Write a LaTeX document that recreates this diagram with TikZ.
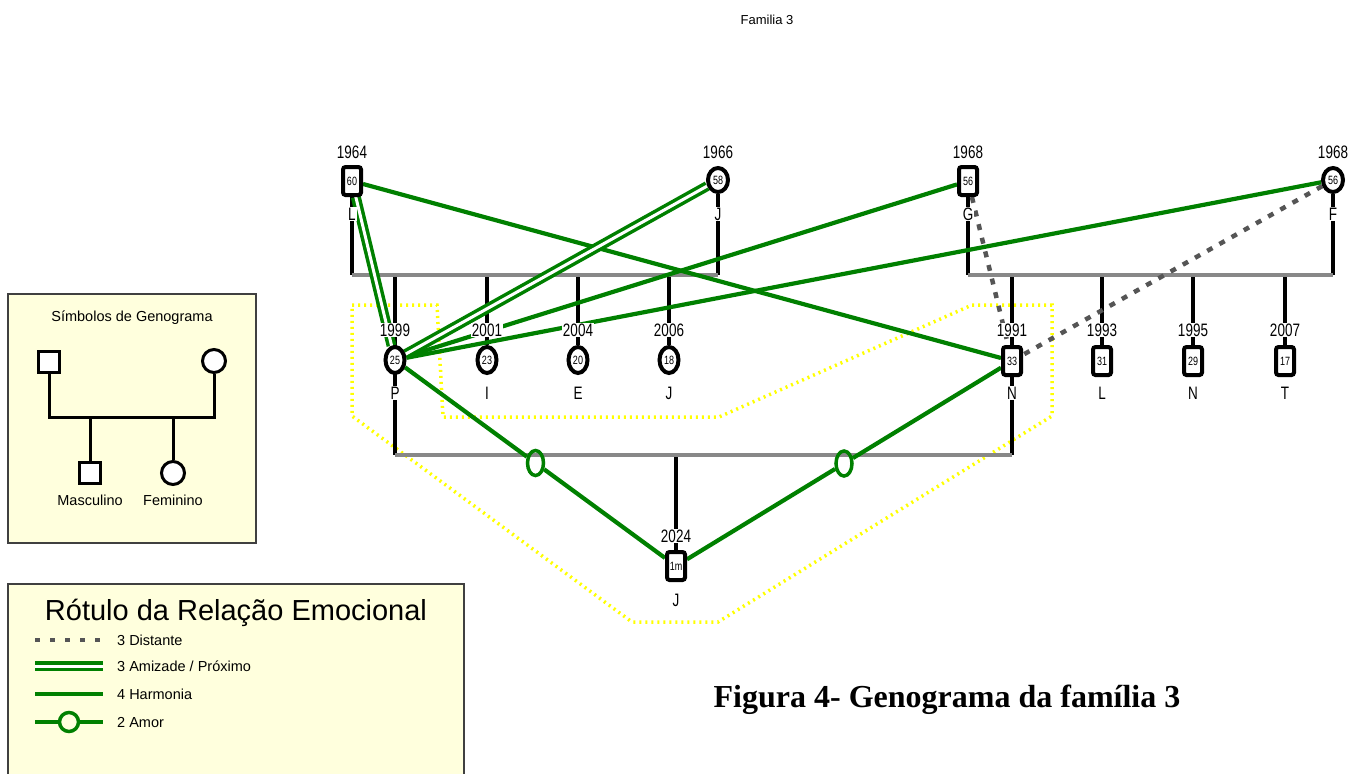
\documentclass[tikz,border=0pt]{standalone}
\usepackage{fontspec}
\setmainfont{Liberation Sans}
\newfontfamily\narrowsans[FakeStretch=0.75]{Liberation Sans}
\newfontfamily\captionserif{Liberation Serif}
\usetikzlibrary{shapes.geometric}

\pgfdeclarelayer{lines}
\pgfsetlayers{lines,main}

\definecolor{relgreen}{RGB}{0,128,0}
\definecolor{famgray}{RGB}{136,136,136}
\definecolor{distgray}{RGB}{85,85,85}
\definecolor{legendfill}{RGB}{255,255,221}
\definecolor{legendedge}{RGB}{64,64,64}
\definecolor{hullyellow}{RGB}{255,255,0}

\tikzset{
  male/.style={rectangle, draw=black, line width=4pt, fill=white, rounded corners=2.5pt,
    minimum width=18pt, minimum height=28pt, inner sep=0pt,
    font=\narrowsans\fontsize{12}{12}\selectfont},
  female/.style={ellipse, draw=black, line width=4pt, fill=white,
    minimum width=19pt, minimum height=26pt, inner sep=0pt,
    font=\narrowsans\fontsize{12}{12}\selectfont},
  roundfemale/.style={female, minimum width=20pt, minimum height=24pt},
  yearlbl/.style={fill=white, inner sep=1pt, font=\narrowsans\fontsize{18}{18}\selectfont},
  namelbl/.style={fill=white, inner sep=1pt, font=\narrowsans\fontsize{18}{18}\selectfont},
  stem/.style={draw=black, line width=3.5pt},
  union/.style={draw=famgray, line width=4.5pt},
  harmony/.style={draw=relgreen, line width=4.2pt},
  friend/.style={draw=relgreen, line width=3.5pt, double=white, double distance=3pt},
  distant/.style={draw=distgray, line width=4.5pt, dash pattern=on 6pt off 8pt},
  lovering/.style={ellipse, draw=relgreen, line width=3.5pt, minimum width=16pt,
    minimum height=25pt, inner sep=0pt},
  hull/.style={draw=hullyellow, line width=3.5pt, dash pattern=on 2pt off 4pt},
  legendbox/.style={draw=legendedge, line width=2pt},
  legtext/.style={font=\fontsize{14.5}{14.5}\selectfont, inner sep=0pt},
  legmale/.style={rectangle, draw=black, line width=3pt, fill=white, minimum size=21pt, inner sep=0pt},
  legfemale/.style={circle, draw=black, line width=3pt, fill=white, minimum size=23pt, inner sep=0pt},
  legline/.style={draw=black, line width=3pt},
}

\begin{document}
\begin{tikzpicture}[x=1pt,y=-1pt]
\useasboundingbox (0,0) rectangle (1361,774);

% heading
\node[font=\fontsize{13}{13}\selectfont] (heading) at (767,20) {Familia 3};

% ---------------- genogram ----------------
% first generation
\node[male] (L) at (352,181) {60};
\node[yearlbl] (Ly) at (352,152) {1964};
\node[namelbl] (Ln) at (352,214) {L};

\node[roundfemale] (Jm) at (718,180) {58};
\node[yearlbl] (Jmy) at (718,152) {1966};
\node[namelbl] (Jmn) at (718,214) {J};

\node[male] (G) at (968,181) {56};
\node[yearlbl] (Gy) at (968,152) {1968};
\node[namelbl] (Gn) at (968,214) {G};

\node[roundfemale] (F) at (1333,180) {56};
\node[yearlbl] (Fy) at (1333,152) {1968};
\node[namelbl] (Fn) at (1333,214) {F};

% second generation
\node[female] (P) at (395,360) {25};
\node[yearlbl] (Py) at (395,330) {1999};
\node[namelbl] (Pn) at (395,393) {P};

\node[female] (I) at (487,360) {23};
\node[yearlbl] (Iy) at (487,330) {2001};
\node[namelbl] (In) at (487,393) {I};

\node[female] (E) at (578,360) {20};
\node[yearlbl] (Ey) at (578,330) {2004};
\node[namelbl] (En) at (578,393) {E};

\node[female] (Jd) at (669,360) {18};
\node[yearlbl] (Jdy) at (669,330) {2006};
\node[namelbl] (Jdn) at (669,393) {J};

\node[male] (N) at (1012,361) {33};
\node[yearlbl] (Ny) at (1012,330) {1991};
\node[namelbl] (Nn) at (1012,393) {N};

\node[male] (Ls) at (1102,361) {31};
\node[yearlbl] (Lsy) at (1102,330) {1993};
\node[namelbl] (Lsn) at (1102,393) {L};

\node[male] (Ns) at (1193,361) {29};
\node[yearlbl] (Nsy) at (1193,330) {1995};
\node[namelbl] (Nsn) at (1193,393) {N};

\node[male] (T) at (1285,361) {17};
\node[yearlbl] (Ty) at (1285,330) {2007};
\node[namelbl] (Tn) at (1285,393) {T};

% third generation
\node[male] (Jc) at (676,566) {1m};
\node[yearlbl] (Jcy) at (676,536) {2024};
\node[namelbl] (Jcn) at (676,600) {J};

% love markers halfway along the parent--child links
\path (P.center) -- (Jc.center) node[lovering, midway] (love1) {};
\path (N.center) -- (Jc.center) node[lovering, midway] (love2) {};

% union levels
\coordinate (u1a) at (352,275);
\coordinate (u1b) at (718,275);
\coordinate (u2a) at (968,275);
\coordinate (u2b) at (1333,275);
\coordinate (u3a) at (395,455);
\coordinate (u3b) at (1012,455);

\begin{pgfonlayer}{lines}
  % household outline
  \draw[hull] (352,305) -- (437,305) -- (443,417) -- (719,417) -- (972,305)
    -- (1052,305) -- (1052,416) -- (718,622) -- (632,622) -- (352,416) -- cycle;

  % descent lines
  \draw[stem] (L) -- (L |- u1a);
  \draw[stem] (Jm) -- (Jm |- u1a);
  \draw[stem] (G) -- (G |- u2a);
  \draw[stem] (F) -- (F |- u2a);
  \draw[stem] (P |- u1a) -- (P |- u3a);
  \draw[stem] (I |- u1a) -- (I);
  \draw[stem] (E |- u1a) -- (E);
  \draw[stem] (Jd |- u1a) -- (Jd);
  \draw[stem] (N |- u2a) -- (N |- u3a);
  \draw[stem] (Ls |- u2a) -- (Ls);
  \draw[stem] (Ns |- u2a) -- (Ns);
  \draw[stem] (T |- u2a) -- (T);
  \draw[stem] (Jc |- u3a) -- (Jc);

  % unions
  \draw[union] (u1a) -- (u1b);
  \draw[union] (u2a) -- (u2b);
  \draw[union] (u3a) -- (u3b);

  % emotional relations
  \draw[distant] (G) -- (N);
  \draw[distant] (F) -- (N);
  \draw[harmony] (L) -- (N);
  \draw[harmony] (G) -- (P);
  \draw[harmony] (F) -- (P);
  \draw[friend] (L) -- (P);
  \draw[friend] (Jm) -- (P);
  \draw[harmony] (P) -- (love1) -- (Jc);
  \draw[harmony] (N) -- (love2) -- (Jc);
\end{pgfonlayer}

% ---------------- symbol legend ----------------
\draw[legendbox, fill=legendfill] (8,294) rectangle (256,543);
\node[legtext] (symtitle) at (132,318) {Símbolos de Genograma};
\coordinate (ly) at (0,417);
\node[legmale] (sm) at (49,362) {};
\node[legfemale] (sf) at (214,361) {};
\node[legmale] (sc1) at (90,473) {};
\node[legfemale] (sc2) at (173,473) {};
\draw[legline] (sm) -- (sm |- ly) -- (sf |- ly) -- (sf);
\draw[legline] (sc1 |- ly) -- (sc1);
\draw[legline] (sc2 |- ly) -- (sc2);
\node[legtext] (masc) at (90,500) {Masculino};
\node[legtext] (fem) at (173,500) {Feminino};

% ---------------- relation legend ----------------
\fill[legendfill] (8,584) rectangle (464,780);
\draw[legendbox] (8,780) -- (8,584) -- (464,584) -- (464,780);
\node[font=\fontsize{29}{29}\selectfont, inner sep=0pt] (reltitle) at (236,613) {Rótulo da Relação Emocional};

\coordinate (d1) at (35,640);  \coordinate (d2) at (103,640);
\coordinate (f1) at (35,666);  \coordinate (f2) at (103,666);
\coordinate (h1) at (35,694);  \coordinate (h2) at (103,694);
\coordinate (a1) at (35,722);  \coordinate (a2) at (103,722);
\node[lovering, minimum width=19pt, minimum height=19pt] (la) at (69,722) {};

\draw[distant, dash pattern=on 5pt off 10pt] (d1) -- (d2);
\draw[friend] (f1) -- (f2);
\draw[harmony] (h1) -- (h2);
\draw[harmony] (a1) -- (la) -- (a2);

\node[legtext, anchor=west] (tdist) at (117,640) {3 Distante};
\node[legtext, anchor=west] (tfriend) at (117,666) {3 Amizade / Próximo};
\node[legtext, anchor=west] (tharm) at (117,694) {4 Harmonia};
\node[legtext, anchor=west] (tlove) at (117,722) {2 Amor};

% ---------------- caption ----------------
\node[font=\captionserif\bfseries\fontsize{32}{32}\selectfont] (caption) at (947,700)
  {Figura 4- Genograma da família 3};
\end{tikzpicture}
\end{document}
